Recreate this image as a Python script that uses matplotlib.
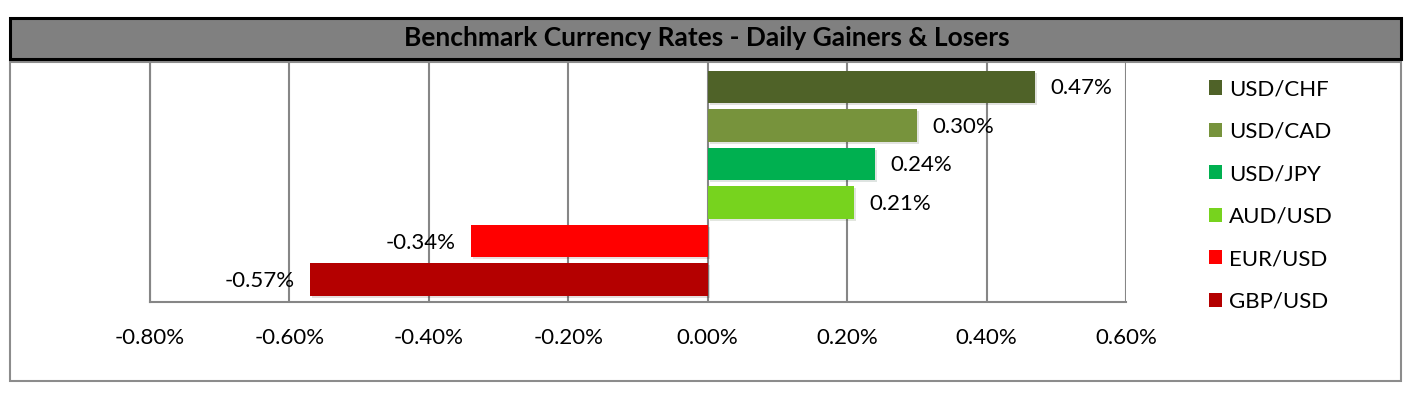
import matplotlib.pyplot as plt
import matplotlib.patheffects as pe
from matplotlib.patches import Rectangle, Patch
from matplotlib.ticker import FuncFormatter
import numpy as np

# data, top bar first
pairs = ['USD/CHF', 'USD/CAD', 'USD/JPY', 'AUD/USD', 'EUR/USD', 'GBP/USD']
changes = [0.47, 0.30, 0.24, 0.21, -0.34, -0.57]
colors = ['#4F6228', '#77933C', '#00B050', '#77D31E', '#FF0000', '#B40000']
xticks = [-0.8, -0.6, -0.4, -0.2, 0.0, 0.2, 0.4, 0.6]

plt.rcParams['font.family'] = ['Lato', 'DejaVu Sans']

fig = plt.figure(figsize=(14.23, 3.96), dpi=100)

# outer frame and title box
fig.patches.append(Rectangle((0.00703, 0.0379), 0.9775, 0.8056, transform=fig.transFigure,
                             facecolor='white', edgecolor='#8C8C8C', lw=1.5, zorder=0))
fig.patches.append(Rectangle((0.00703, 0.851), 0.9775, 0.1035, transform=fig.transFigure,
                             facecolor='#808080', edgecolor='black', lw=2.2, zorder=1))
fig.text(0.4965, 0.9028, 'Benchmark Currency Rates - Daily Gainers & Losers',
         ha='center', va='center', fontsize=19, fontweight='bold', color='black')

ax = fig.add_axes([0.1054, 0.2374, 0.6859, 0.606])
ax.set_zorder(2)
ax.set_facecolor('none')

ypos = np.arange(len(pairs))[::-1]
bars = ax.barh(ypos, changes, height=0.845, color=colors, zorder=3,
               path_effects=[pe.SimplePatchShadow(offset=(1.5, -1.5), alpha=0.13), pe.Normal()])

for y, v in zip(ypos, changes):
    off = 11 if v >= 0 else -11
    ax.annotate('%.2f%%' % v, (v, y), xytext=(off, -1), textcoords='offset points',
                ha='left' if v >= 0 else 'right', va='center', fontsize=16, color='black')

ax.set_xlim(-0.8, 0.6)
ax.set_ylim(-0.58, 5.65)
ax.set_xticks(xticks)
ax.xaxis.set_major_formatter(FuncFormatter(lambda x, p: '%.2f%%' % x))
ax.set_yticks([])
ax.tick_params(axis='x', length=0, pad=19, labelsize=16)
ax.grid(axis='x', color='#868686', lw=1.5, zorder=1)

for s in ['top', 'right']:
    ax.spines[s].set_visible(False)
for s in ['left', 'bottom']:
    ax.spines[s].set_color('#868686')
    ax.spines[s].set_linewidth(1.5)

handles = [Patch(facecolor=c, label=p) for c, p in zip(colors, pairs)]
fig.legend(handles=handles, loc='upper left', bbox_to_anchor=(0.8434, 0.822),
           frameon=False, fontsize=16, handlelength=0.6, handleheight=0.6,
           handletextpad=0.3, labelspacing=1.01, borderaxespad=0)

fig.savefig('out.png', dpi=100)
